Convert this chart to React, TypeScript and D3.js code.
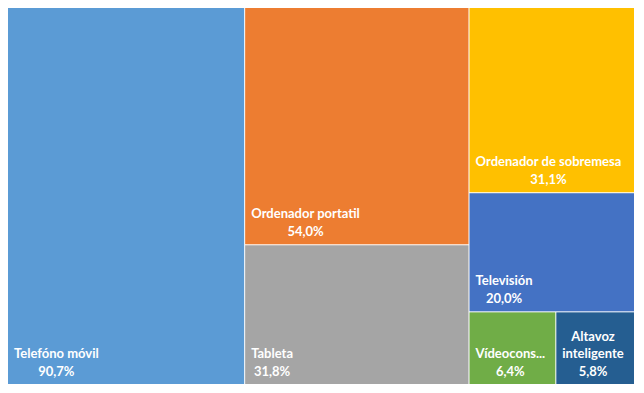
import React from "react";
import * as d3 from "d3";

const categories = ["Telefóno móvil", "Ordenador portatil", "Tableta", "Ordenador de sobremesa", "Televisión", "Vídeoconsola", "Altavoz inteligente"];
const values = [90.7, 54.0, 31.8, 31.1, 20.0, 6.4, 5.8];
const labelLines = [["Telefóno móvil"], ["Ordenador portatil"], ["Tableta"], ["Ordenador de sobremesa"], ["Televisión"], ["Vídeocons..."], ["Altavoz", "inteligente"]];
const colors = ["#5B9BD5", "#ED7D31", "#A5A5A5", "#FFC000", "#4472C4", "#70AD47", "#255E91"];

const W = 644, H = 393;
const FONT = "Lato, 'Liberation Sans', sans-serif";
const FS = 13;

let ctx: CanvasRenderingContext2D | null = null;
function measure(s: string) {
  if (!ctx && typeof document !== "undefined") ctx = document.createElement("canvas").getContext("2d");
  if (!ctx) return s.length * 6.6;
  ctx.font = `bold ${FS}px Lato, 'Liberation Sans', sans-serif`;
  return ctx.measureText(s).width;
}

export default function App() {
  const root = d3.hierarchy({ children: categories.map((c, i) => ({ name: c, value: values[i], idx: i })) } as any)
    .sum((d: any) => d.value ?? 0);
  d3.treemap().tile(d3.treemapSquarify.ratio(1)).size([626, 376]).paddingInner(1).round(false)(root as any);
  const leaves = root.leaves() as any[];
  const fmt = (v: number) => v.toFixed(1).replace(".", ",") + "%";
  return (
    <svg width={W} height={H} style={{ position: "absolute", left: 0, top: 0 }}>
      <rect x={0} y={0} width={W} height={H} fill="#fff" />
      <g transform="translate(8,8)">
        {leaves.map((l) => {
          const i = l.data.idx;
          const lines = [...labelLines[i], fmt(values[i])];
          const lh = 17.5;
          const bottom = l.y1 - 8.5;
          const bw = Math.max(...lines.map((s) => measure(s)));
          const cx = l.x0 + 6 + bw / 2;
          return (
            <g key={i}>
              <rect x={l.x0} y={l.y0} width={l.x1 - l.x0} height={l.y1 - l.y0} fill={colors[i]} />
              {lines.map((s, j) => (
                <text key={j} x={cx} y={bottom - (lines.length - 1 - j) * lh} textAnchor="middle"
                  fill="#fff" fontFamily={FONT} fontWeight="bold" fontSize={FS}>{s}</text>
              ))}
            </g>
          );
        })}
      </g>
    </svg>
  );
}
